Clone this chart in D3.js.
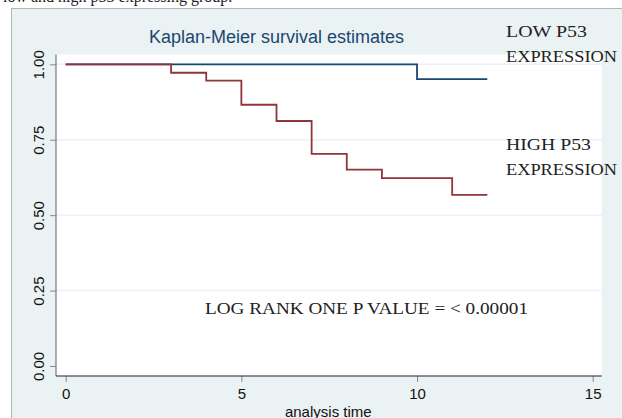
<!DOCTYPE html>
<html>
<head>
<meta charset="utf-8">
<script src="https://cdn.jsdelivr.net/npm/d3@7"></script>
<style>
  body { margin: 0; background: #fff; }
</style>
</head>
<body>
<div id="km"></div>
<script>
// survival steps
const highTimes = [0, 3, 4, 5, 6, 7, 8, 9, 11, 12];
const highSurv = [1, 0.972, 0.946, 0.866, 0.812, 0.703, 0.651, 0.623, 0.567, 0.567];
const lowTimes = [0, 10, 12];
const lowSurv = [1, 0.951, 0.951];
const xTicks = [0, 5, 10, 15];
const yTicks = [0, 0.25, 0.5, 0.75, 1];

function drawKM() {
    const width = 622, height = 418;
    const plot = {left: 56, right: 601.7, top: 54.5, bottom: 376};

    const svg = d3.select("#km")
        .append("svg")
        .attr("width", width)
        .attr("height", height);

    // text from the page above, mostly cut off
    svg.append("text")
        .attr("x", 3)
        .attr("y", 2)
        .style("font-family", "Liberation Serif")
        .style("font-size", "16px")
        .attr("fill", "#222")
        .text("low and high p53 expressing group.");

    // outer graph region
    svg.append("rect")
        .attr("x", 11.5).attr("y", 8.5)
        .attr("width", 700).attr("height", 500)
        .attr("fill", "#eaf2f3")
        .attr("stroke", "#b4b4b4");

    svg.append("rect")
        .attr("x", plot.left).attr("y", plot.top)
        .attr("width", plot.right - plot.left)
        .attr("height", plot.bottom - plot.top)
        .attr("fill", "#fff");

    const x = d3.scaleLinear().domain([0, 15]).range([65.7, 592.7]);
    const y = d3.scaleLinear().domain([0, 1]).range([366, 64.3]);

    // gridlines
    svg.selectAll(".grid")
        .data(yTicks.filter(d => d > 0))
        .join("line")
        .attr("x1", plot.left).attr("x2", plot.right)
        .attr("y1", d => y(d)).attr("y2", d => y(d))
        .attr("stroke", "#eaf2f3")
        .attr("stroke-width", 1.5);

    // y axis
    const gy = svg.append("g")
        .attr("transform", `translate(${plot.left},0)`)
        .call(d3.axisLeft(y).tickValues(yTicks).tickFormat(d3.format(".2f")).tickSize(6));
    gy.select(".domain").remove();
    gy.selectAll(".tick line").attr("stroke", "#8a8a8a");
    gy.selectAll(".tick text")
        .attr("transform", "rotate(-90)")
        .attr("x", 0)
        .attr("y", -12.5)
        .attr("dy", 0)
        .attr("text-anchor", "middle")
        .style("font-family", "Liberation Sans")
        .style("font-size", "15px")
        .attr("fill", "#111");

    // x axis
    const gx = svg.append("g")
        .attr("transform", `translate(0,${plot.bottom})`)
        .call(d3.axisBottom(x).tickValues(xTicks).tickSize(6).tickPadding(6));
    gx.select(".domain").remove();
    gx.selectAll(".tick line").attr("stroke", "#8a8a8a");
    gx.selectAll(".tick text")
        .style("font-family", "Liberation Sans")
        .style("font-size", "15px")
        .attr("fill", "#111");

    // axis lines
    svg.append("line")
        .attr("x1", plot.left).attr("x2", plot.left)
        .attr("y1", plot.top).attr("y2", plot.bottom)
        .attr("stroke", "#777").attr("stroke-width", 1.2);
    svg.append("line")
        .attr("x1", plot.left).attr("x2", plot.right)
        .attr("y1", plot.bottom).attr("y2", plot.bottom)
        .attr("stroke", "#222").attr("stroke-width", 1.2);

    svg.append("text")
        .attr("x", 328.3).attr("y", 416.5)
        .attr("text-anchor", "middle")
        .style("font-family", "Liberation Sans")
        .style("font-size", "15px")
        .attr("fill", "#111")
        .text("analysis time");

    svg.append("text")
        .attr("x", 276.5).attr("y", 43)
        .attr("text-anchor", "middle")
        .style("font-family", "Liberation Sans")
        .style("font-size", "18px")
        .attr("fill", "#1a476f")
        .text("Kaplan-Meier survival estimates");

    // step curves
    const line = d3.line()
        .x(d => x(d[0]))
        .y(d => y(d[1]))
        .curve(d3.curveStepAfter);

    svg.append("path")
        .datum(d3.zip(lowTimes, lowSurv))
        .attr("d", line)
        .attr("fill", "none")
        .attr("stroke", "#1a476f")
        .attr("stroke-width", 1.8);

    svg.append("path")
        .datum(d3.zip(highTimes, highSurv))
        .attr("d", line)
        .attr("fill", "none")
        .attr("stroke", "#90353b")
        .attr("stroke-width", 1.8);

    // annotations
    const notes = [
        {text: "LOW P53", x: 506, y: 37, w: 81},
        {text: "EXPRESSION", x: 506, y: 62, w: 111},
        {text: "HIGH P53", x: 506, y: 150, w: 85},
        {text: "EXPRESSION", x: 506, y: 175, w: 111},
        {text: "LOG RANK ONE P VALUE = < 0.00001", x: 205, y: 314, w: 323}
    ];
    svg.selectAll(".note")
        .data(notes)
        .join("text")
        .attr("x", d => d.x)
        .attr("y", d => d.y)
        .attr("textLength", d => d.w)
        .attr("lengthAdjust", "spacingAndGlyphs")
        .style("font-family", "Liberation Serif")
        .style("font-size", "17px")
        .attr("fill", "#222")
        .text(d => d.text);
}

drawKM();
</script>
</body>
</html>
